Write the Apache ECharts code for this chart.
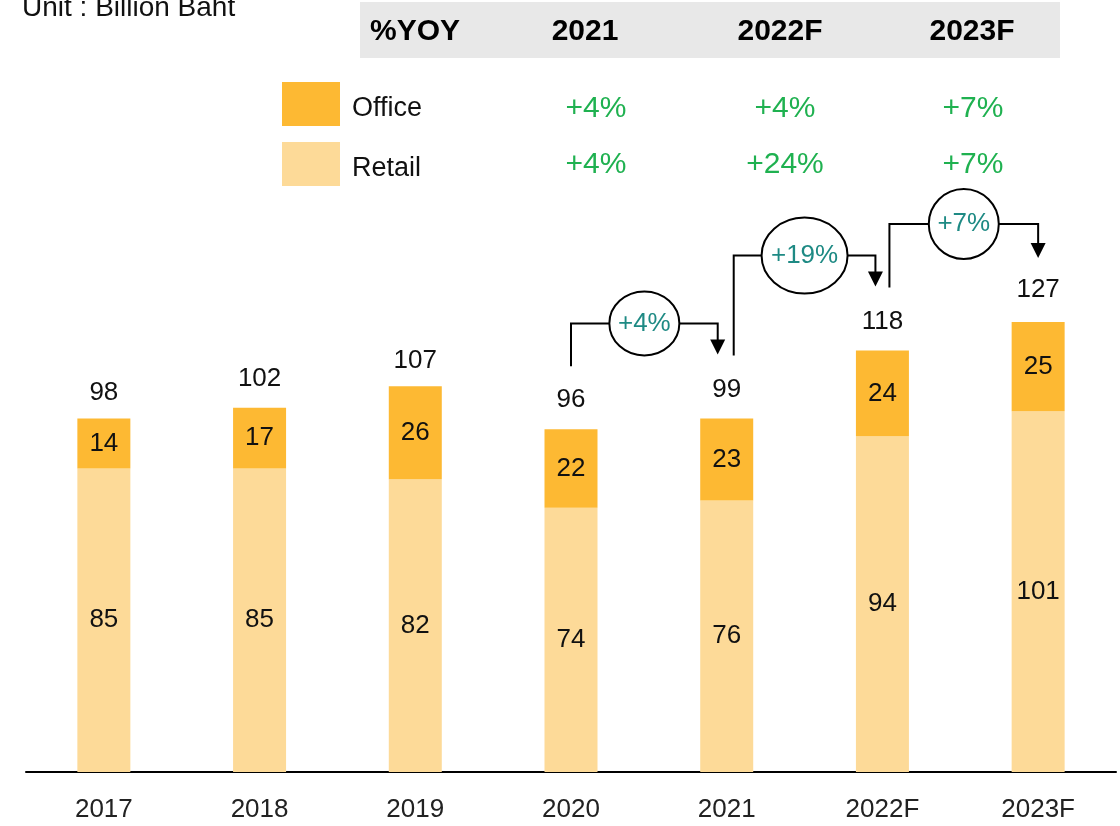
<!DOCTYPE html>
<html><head><meta charset="utf-8">
<script src="https://cdn.jsdelivr.net/npm/echarts@6/dist/echarts.min.js"></script>
<style>html,body{margin:0;padding:0;background:#fff}#c{width:1120px;height:826px}</style>
</head><body><div id="c"></div>
<script>
const categories = ['2017','2018','2019','2020','2021','2022F','2023F'];
const retail = [85,85,82,74,76,94,101];
const office = [14,17,26,22,23,24,25];
const totals = [98,102,107,96,99,118,127];
const yoyYears = ['2021','2022F','2023F'];
const officeYoY = ['+4%','+4%','+7%'];
const retailYoY = ['+4%','+24%','+7%'];
const growthFrom = ['2020','2021','2022F'];
const growthTo = ['2021','2022F','2023F'];
const growthLabel = ['+4%','+19%','+7%'];
const unitText = 'Unit : Billion Baht';

const FONT = '"Liberation Sans", Arial, sans-serif';
const OFFICE_C = '#FDB933';
const RETAIL_C = '#FDDA98';

const chart = echarts.init(document.getElementById('c'), null, {renderer:'canvas'});
const option = {
  animation: false,
  backgroundColor: '#ffffff',
  textStyle: {fontFamily: FONT},
  grid: {left: 26, right: 4, top: 272, bottom: 54, containLabel: false},
  legend: {
    data: ['Office','Retail'], orient: 'vertical', left: 277, top: 77,
    icon: 'rect', itemWidth: 58, itemHeight: 44, itemGap: 16,
    selectedMode: false,
    formatter: name => '{t|' + name + '}',
    textStyle: {fontSize: 27, color: '#111', fontFamily: FONT,
      rich: {t: {fontSize: 27, color: '#111', fontFamily: FONT, padding: [10, 0, 0, 7]}}}
  },
  xAxis: {
    type: 'category', data: categories,
    axisLine: {lineStyle: {color: '#000', width: 2}},
    axisTick: {show: false},
    axisLabel: {fontSize: 26, color: '#222', margin: 25, fontFamily: FONT}
  },
  yAxis: {type: 'value', min: 0, max: 140, show: false, splitLine: {show: false}},
  series: [
    {name: 'Retail', type: 'bar', stack: 's', data: retail, barWidth: 53, silent: true,
     itemStyle: {color: RETAIL_C},
     label: {show: true, position: 'inside', fontSize: 26, color: '#111', fontFamily: FONT}},
    {name: 'Office', type: 'bar', stack: 's', data: office, barWidth: 53, silent: true,
     itemStyle: {color: OFFICE_C},
     label: {show: true, position: 'inside', fontSize: 26, color: '#111', fontFamily: FONT}},
    {name: 'Total', type: 'bar', data: totals, barWidth: 53, barGap: '-100%', silent: true, z: 1,
     itemStyle: {color: 'rgba(0,0,0,0)'},
     label: {show: true, position: 'top', distance: 16, fontSize: 26, color: '#111', fontFamily: FONT}}
  ]
};
chart.setOption(option);

const g = [];
g.push({type:'text', x: 22, y: -6, style:{text: unitText, fontSize: 28, fill:'#111', fontFamily: FONT}});
g.push({type:'rect', shape:{x:360, y:2, width:700, height:56}, style:{fill:'#E8E8E8'}});
g.push({type:'text', x:370, y:32, style:{text:'%YOY', fontSize:30, fontWeight:'bold', fill:'#000', fontFamily:FONT, verticalAlign:'middle'}});
const headerX = [585, 780, 972];
const valX = [596, 785, 973];
yoyYears.forEach((t,i)=>{
  g.push({type:'text', x:headerX[i], y:32, style:{text:t, fontSize:30, fontWeight:'bold', fill:'#000', fontFamily:FONT, align:'center', verticalAlign:'middle'}});
});
officeYoY.forEach((t,i)=>{
  g.push({type:'text', x:valX[i], y:109, style:{text:t, fontSize:30, fill:'#1FB150', fontFamily:FONT, align:'center', verticalAlign:'middle'}});
});
retailYoY.forEach((t,i)=>{
  g.push({type:'text', x:valX[i], y:165, style:{text:t, fontSize:30, fill:'#1FB150', fontFamily:FONT, align:'center', verticalAlign:'middle'}});
});

const startDx = [0, 7, 7];
const endDx = [-9, -7, 0];
const radii = [[35,32],[43,38],[35,35]];
const hOff = [95, 95, 98];
const pos = (cat, v) => chart.convertToPixel({xAxisIndex:0, yAxisIndex:0}, [categories.indexOf(cat), v]);
growthFrom.forEach((f,i)=>{
  const fi = categories.indexOf(f), ti = categories.indexOf(growthTo[i]);
  const pf = pos(f, office[fi] + retail[fi]);
  const pt = pos(growthTo[i], office[ti] + retail[ti]);
  const x1 = pf[0] + startDx[i], x2 = pt[0] + endDx[i];
  const y1 = pf[1] - 63, tip = pt[1] - 64, yh = pt[1] - hOff[i];
  g.push({type:'polyline', shape:{points:[[x1,y1],[x1,yh],[x2,yh],[x2,tip-14]]}, style:{stroke:'#000', lineWidth:2, fill:null}, z:10});
  g.push({type:'polygon', shape:{points:[[x2-7.5,tip-15],[x2+7.5,tip-15],[x2,tip]]}, style:{fill:'#000'}, z:10});
  const cx = (x1 + x2)/2;
  g.push({type:'ellipse', shape:{cx:cx, cy:yh, rx:radii[i][0], ry:radii[i][1]}, style:{fill:'#fff', stroke:'#000', lineWidth:2}, z:11});
  g.push({type:'text', x:cx, y:yh, style:{text:growthLabel[i], fontSize:26, fill:'#1E8A84', fontFamily:FONT, align:'center', verticalAlign:'middle'}, z:12});
});
chart.setOption({graphic: g});
</script></body></html>
